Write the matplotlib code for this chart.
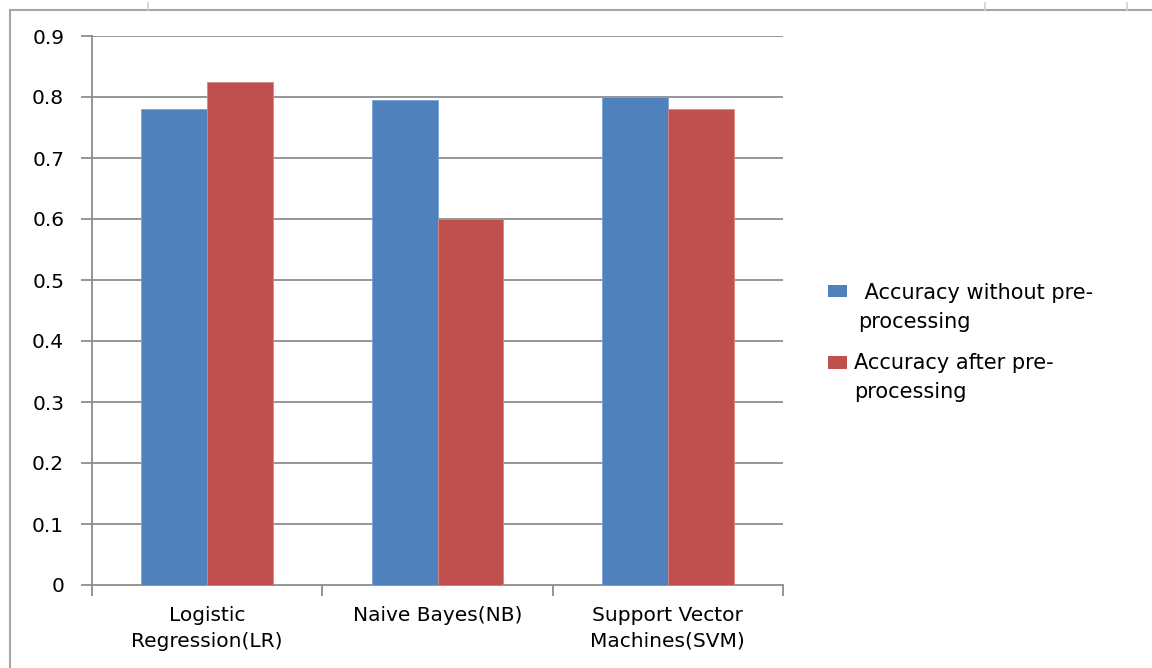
import matplotlib.pyplot as plt
import numpy as np
from matplotlib.lines import Line2D
from matplotlib.patches import Rectangle

categories = ["Logistic\nRegression(LR)", "Naive Bayes(NB)", "Support Vector\nMachines(SVM)"]
acc_without = [0.78, 0.795, 0.80]
acc_after = [0.825, 0.60, 0.78]
series_labels = [[" Accuracy without pre-", "processing"], ["Accuracy after pre-", "processing"]]
yticks = [0, 0.1, 0.2, 0.3, 0.4, 0.5, 0.6, 0.7, 0.8, 0.9]

W, H = 1152, 668
fig = plt.figure(figsize=(W / 100, H / 100), dpi=100)
plt.rcParams['font.family'] = ['DejaVu Sans']

ax = fig.add_axes([92 / W, 1 - 585 / H, (783 - 92) / W, (585 - 36) / H])

blue = "#4f81bd"
red = "#c0504d"
grid = "#8c8c8c"
colors = [blue, red]

x = np.arange(len(categories))
bw = 1 / 3.5
ax.bar(x - bw / 2, acc_without, width=bw, color=blue, edgecolor="#7ba3da", linewidth=0.6, zorder=3)
ax.bar(x + bw / 2, acc_after, width=bw, color=red, edgecolor="#d98683", linewidth=0.6, zorder=3)

ax.set_xlim(-0.5, len(categories) - 0.5)
ax.set_ylim(0, 0.9)
ax.set_yticks(yticks)
ax.set_yticklabels(["0" if v == 0 else f"{v:.1f}" for v in yticks], fontsize=14.5)
for v in yticks[1:]:
    ax.axhline(v, color=grid, linewidth=1.3, zorder=1)

# category labels centered between the boundary ticks
ax.set_xticks(x)
ax.set_xticklabels(categories, fontsize=14.5, linespacing=1.45)
ax.tick_params(axis="x", length=0, pad=15)
ax.set_xticks(np.arange(len(categories) + 1) - 0.5, minor=True)
ax.tick_params(axis="x", which="minor", length=8, width=1.3, color=grid, direction="out")
ax.tick_params(axis="y", length=8, width=1.3, color=grid, direction="out", pad=12)

for s in ["top", "right"]:
    ax.spines[s].set_visible(False)
for s in ["left", "bottom"]:
    ax.spines[s].set_color(grid)
    ax.spines[s].set_linewidth(1.3)

# legend: colour keys aligned with the first line of each label
key_boxes = [(828, 285, 847, 297), (828, 356, 847, 369)]
text_lines = [[(858, 299), (858, 328)], [(854, 369), (854, 398)]]
for col, box, labels, pos in zip(colors, key_boxes, series_labels, text_lines):
    x0, y0, x1, y1 = box
    fig.add_artist(Rectangle((x0 / W, 1 - y1 / H), (x1 - x0) / W, (y1 - y0) / H,
                             facecolor=col, edgecolor="none", transform=fig.transFigure))
    for txt, (tx, ty) in zip(labels, pos):
        fig.text(tx / W, 1 - ty / H, txt, fontsize=15, va="baseline", ha="left")

# outer chart border
border = "#a6a6a6"
fig.add_artist(Line2D([10 / W, 10 / W], [0, 1 - 10 / H], color=border, linewidth=1.5, transform=fig.transFigure))
fig.add_artist(Line2D([10 / W, 1], [1 - 10 / H, 1 - 10 / H], color=border, linewidth=1.5, transform=fig.transFigure))
for px in [148, 985, 1127]:
    fig.add_artist(Line2D([px / W, px / W], [1 - 10 / H, 1 - 3 / H], color="#d0d0d0", linewidth=1.2, transform=fig.transFigure))

fig.savefig("out.png", dpi=100)
